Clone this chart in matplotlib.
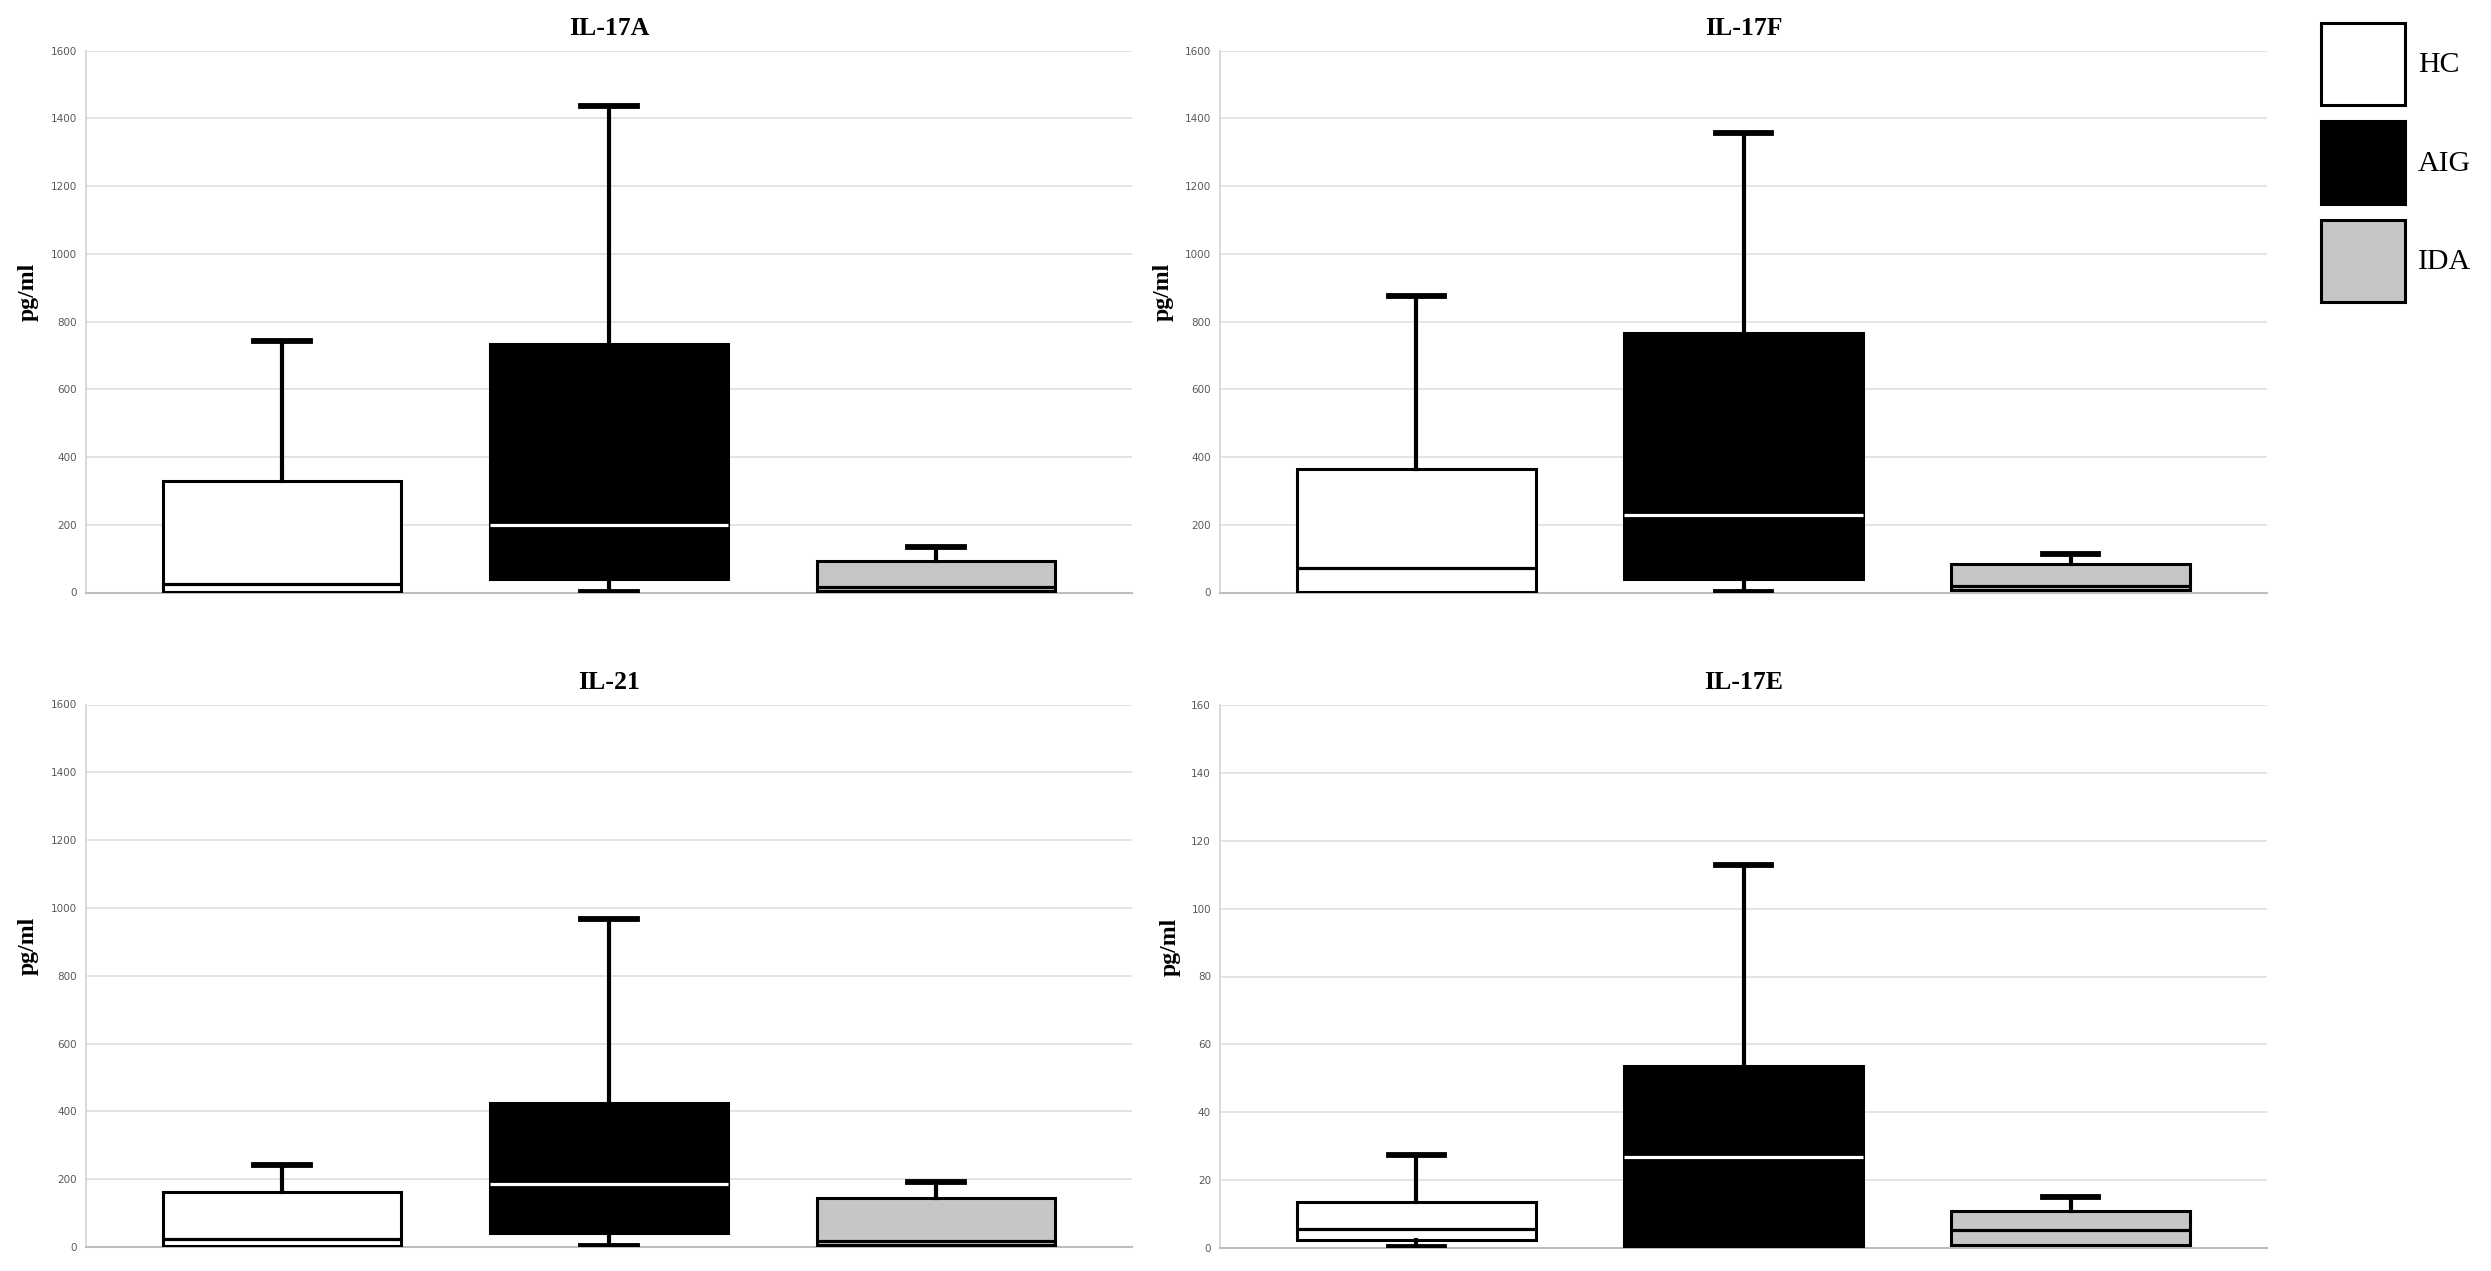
import matplotlib
matplotlib.use("Agg")
import matplotlib.pyplot as plt
from matplotlib.patches import Patch

# ---------------- data ----------------
groups = ["HC", "AIG", "IDA"]
group_colors = ["#ffffff", "#000000", "#c6c6c6"]
median_colors = ["#000000", "#ffffff", "#000000"]

titles = ["IL-17A", "IL-17F", "IL-21", "IL-17E"]
y_max = [1600, 1600, 1600, 160]
y_step = [200, 200, 200, 20]

# per group: HC, AIG, IDA
il17a_min = [2, 2, 5]
il17a_q1 = [2, 41, 5]
il17a_med = [26, 198, 17]
il17a_q3 = [330, 734, 92]
il17a_max = [743, 1435, 134]

il17f_min = [2, 2, 6]
il17f_q1 = [2, 41, 6]
il17f_med = [72, 229, 19]
il17f_q3 = [364, 767, 84]
il17f_max = [876, 1358, 113]

il21_min = [3, 2, 5]
il21_q1 = [3, 40, 5]
il21_med = [25, 187, 17]
il21_q3 = [163, 424, 144]
il21_max = [243, 967, 192]

il17e_min = [0.2, 0.2, 0.8]
il17e_q1 = [2.4, 0.2, 0.8]
il17e_med = [5.6, 26.7, 5.3]
il17e_q3 = [13.6, 53.6, 10.9]
il17e_max = [27.4, 113, 15]

panel_data = [
    (il17a_min, il17a_q1, il17a_med, il17a_q3, il17a_max),
    (il17f_min, il17f_q1, il17f_med, il17f_q3, il17f_max),
    (il21_min, il21_q1, il21_med, il21_q3, il21_max),
    (il17e_min, il17e_q1, il17e_med, il17e_q3, il17e_max),
]

# ---------------- layout ----------------
W, H = 2491, 1271
fig = plt.figure(figsize=(W / 100, H / 100), dpi=100)

# axes rectangles in pixels: left, top, right, bottom
rects_px = [
    (86, 50.6, 1132, 592.5),
    (1220, 50.6, 2267, 592.5),
    (86, 704.5, 1132, 1247),
    (1220, 705, 2267, 1248),
]
label_x = [-0.0456, -0.0445, -0.045, -0.038]

serif = ["Liberation Serif", "DejaVu Serif"]

for i, (l, t, r, b) in enumerate(rects_px):
    ax = fig.add_axes([l / W, 1 - b / H, (r - l) / W, (b - t) / H])
    mins, q1s, meds, q3s, maxs = panel_data[i]
    stats = []
    for g, lo, q1, md, q3, hi in zip(groups, mins, q1s, meds, q3s, maxs):
        stats.append(dict(label=g, whislo=lo, q1=q1, med=md, q3=q3, whishi=hi))
    res = ax.bxp(stats, positions=[1, 2, 3], widths=0.73, capwidths=0.17,
                 patch_artist=True, showfliers=False, zorder=3,
                 boxprops=dict(linewidth=2.2, edgecolor="black"),
                 whiskerprops=dict(linewidth=3.0, color="black"),
                 capprops=dict(linewidth=4.2, color="black"),
                 medianprops=dict(linewidth=2.3))
    for k, box in enumerate(res["boxes"]):
        box.set_facecolor(group_colors[k])
        res["medians"][k].set_color(median_colors[k])
        if mins[k] >= q1s[k]:
            res["whiskers"][2 * k].set_visible(False)
            res["caps"][2 * k].set_visible(False)

    ax.set_xlim(0.4, 3.6)
    ax.set_ylim(0, y_max[i])
    ax.set_yticks(range(0, y_max[i] + 1, y_step[i]))
    ax.set_xticks([])
    ax.yaxis.grid(True, color="#dcdcdc", linewidth=1.1)
    ax.set_axisbelow(True)
    ax.tick_params(axis="y", length=0, pad=6.5, labelsize=7.5, labelcolor="#595959")
    for s in ["top", "right"]:
        ax.spines[s].set_visible(False)
    ax.spines["left"].set_color("#d0d0d0")
    ax.spines["left"].set_linewidth(1.1)
    ax.spines["bottom"].set_color("#bdbdbd")
    ax.spines["bottom"].set_linewidth(1.5)

    ax.set_title(titles[i], fontsize=18.5, fontweight="bold", family=serif, pad=11.5)
    ax.set_ylabel("pg/ml", fontsize=17, fontweight="bold", family=serif)
    ax.yaxis.set_label_coords(label_x[i], 0.555)

handles = [Patch(facecolor=c, edgecolor="black", linewidth=2.2, label=g)
           for g, c in zip(groups, group_colors)]
fig.legend(handles=handles, loc="upper left", bbox_to_anchor=(2321 / W, 1 - 23 / H),
           frameon=False, borderpad=0, borderaxespad=0,
           handlelength=2.8, handleheight=3.85, labelspacing=0.55, handletextpad=0.45,
           prop=dict(family=serif, size=21.5))

fig.savefig("out.png", dpi=100, facecolor="white")
